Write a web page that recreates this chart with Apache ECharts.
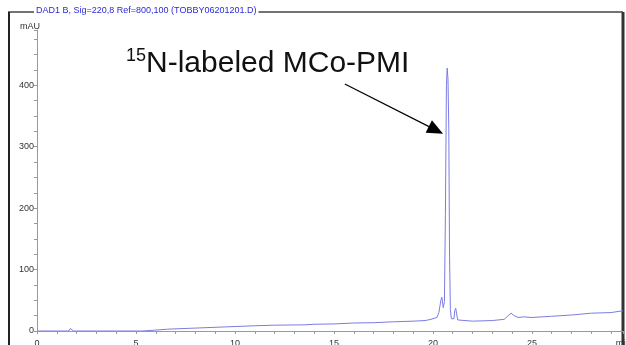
<!DOCTYPE html>
<html><head><meta charset="utf-8">
<script src="https://cdn.jsdelivr.net/npm/echarts@6/dist/echarts.min.js"></script>
<style>html,body{margin:0;padding:0;background:#fff}#c{width:626px;height:345px}</style>
</head><body><div id="c"></div>
<script>
// Retention time (min)
const times = [0, 1.6, 1.68, 1.75, 1.85, 2.0, 5.3, 5.4, 6.0, 6.1, 6.6, 6.7, 8.2, 8.3, 9.8, 9.9, 11, 12, 13.5, 14, 15, 16, 17, 18, 19, 19.6, 19.9, 20.2, 20.3, 20.4, 20.45, 20.52, 20.58, 20.63, 20.68, 20.72, 20.76, 20.8, 20.84, 20.88, 20.93, 21.0, 21.06, 21.1, 21.15, 21.2, 21.25, 21.35, 22, 23, 23.6, 23.8, 23.95, 24.1, 24.3, 24.6, 25, 26, 27, 28, 29, 29.6];
// Absorbance (mAU)
const signal = [0, 0, 4, 1, 0, 0, 0, 1.5, 1.5, 3, 3, 4.5, 5, 6.5, 7, 8, 8.5, 9.5, 10, 11, 11.5, 13, 13.5, 15, 16, 17, 19, 22, 30, 50, 55, 38, 48, 190, 400, 428, 410, 330, 120, 35, 20, 18, 20, 33, 37, 34, 18, 15, 16, 17, 19, 25, 29, 25, 22, 23, 22, 24, 26, 29, 30, 33];
const yTicks = [0, 100, 200, 300, 400];
const xTicks = [0, 5, 10, 15, 20, 25];
const xEnd = 29.6;
const xUnit = 'min';
const headerText = 'DAD1 B, Sig=220,8 Ref=800,100 (TOBBY06201201.D)';
const annotation = { sup: '15', main: 'N-labeled MCo-PMI' };
const arrowFrom = [15.55, 402];
const arrowTo = [20.15, 327];

const chart = echarts.init(document.getElementById('c'));
const font = '"Liberation Sans", Arial, sans-serif';
chart.setOption({
  animation: false,
  backgroundColor: '#fff',
  grid: { left: 37, right: 3, top: 30, bottom: 14, containLabel: false, outerBoundsMode: 'none' },
  title: [{
    text: headerText, left: 34, top: 6,
    backgroundColor: '#fff', padding: [0, 2],
    textStyle: { color: '#2a2ad8', fontSize: 9, fontWeight: 'normal', fontFamily: font }
  }, {
    text: '{s|' + annotation.sup + '}{m|' + annotation.main + '}',
    left: 126, top: 47, padding: 0,
    textStyle: {
      fontWeight: 'normal',
      rich: {
        s: { fontSize: 18, color: '#111', fontWeight: 'normal', fontFamily: font, verticalAlign: 'top', lineHeight: 33, padding: [0, 0, 13, 0] },
        m: { fontSize: 30, color: '#111', fontWeight: 'normal', fontFamily: font, lineHeight: 33 }
      }
    }
  }],
  graphic: [
    { type: 'line', shape: { x1: 8, y1: 12, x2: 623, y2: 12 }, style: { stroke: '#444', lineWidth: 1.5 }, z: -1 },
    { type: 'line', shape: { x1: 9, y1: 12, x2: 9, y2: 345 }, style: { stroke: '#222', lineWidth: 2 }, z: -1 },
    { type: 'line', shape: { x1: 623, y1: 12, x2: 623, y2: 345 }, style: { stroke: '#333', lineWidth: 3 }, z: -1 },
    { type: 'text', left: 20, top: 22, style: { text: 'mAU', fontSize: 9, fill: '#333', fontFamily: font } }
  ],
  xAxis: {
    type: 'value', min: 0, max: xEnd, interval: 5, offset: 5,
    axisLine: { lineStyle: { color: '#999', width: 1 } },
    axisTick: { show: true, length: 3, lineStyle: { color: '#999' } },
    minorTick: { show: true, splitNumber: 5, length: 3, lineStyle: { color: '#999' } },
    splitLine: { show: false },
    axisLabel: {
      fontSize: 9, color: '#333', fontFamily: font, margin: 3, showMaxLabel: true,
      formatter: v => Math.abs(v - xEnd) < 1e-6 ? xUnit : (xTicks.includes(v) ? String(v) : '')
    }
  },
  yAxis: {
    type: 'value', min: 0, max: 490, interval: 100,
    axisLine: { show: true, lineStyle: { color: '#999', width: 1 } },
    axisTick: { show: true, length: 3, lineStyle: { color: '#999' } },
    minorTick: { show: true, splitNumber: 4, length: 3, lineStyle: { color: '#999' } },
    splitLine: { show: false },
    axisLabel: {
      fontSize: 9, color: '#333', fontFamily: font, margin: 3, showMaxLabel: false,
      formatter: v => yTicks.includes(v) ? String(v) : ''
    }
  },
  series: [{
    type: 'line', showSymbol: false, symbol: 'none',
    data: times.map((t, i) => [t, signal[i]]),
    lineStyle: { color: '#7c7ce2', width: 1 },
    markLine: {
      silent: true, symbol: ['none', 'triangle'], symbolSize: [14, 16],
      label: { show: false },
      lineStyle: { color: '#000', width: 1.2, type: 'solid' },
      data: [[{ coord: arrowFrom }, { coord: arrowTo }]]
    }
  }]
});
</script></body></html>
